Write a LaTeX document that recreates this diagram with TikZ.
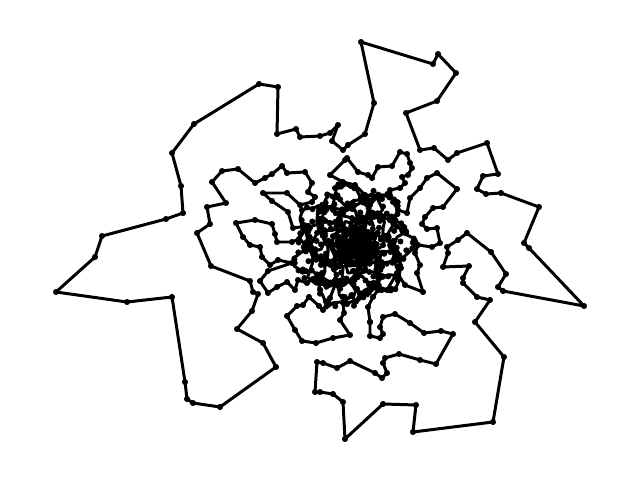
\documentclass[tikz,border=0pt]{standalone}
\tikzset{
  tour/.style={line width=1.7pt, draw=black, line join=round, line cap=round},
  stops/.style={mark=*, mark size=1.55pt, mark options={fill=black, draw=black, line width=0.3pt}}
}
\begin{document}
\begin{tikzpicture}[x=0.02cm, y=-0.02cm,
  declare function={rr(\t)=57*sqrt(1-\t/330); th(\t)=90+(57-rr(\t))*55;
    wob(\t)=1+0.16*sin(7*mod(th(\t),360)+2*\t);
    bx(\t)=355+rr(\t)*wob(\t)*cos(th(\t));
    by(\t)=245+rr(\t)*wob(\t)*sin(th(\t));
    kr(\t)=20*sqrt(1-\t/80); kth(\t)=(20-kr(\t))*90;}]
  \useasboundingbox (0,0) rectangle (640,480);
  \pgfmathsetseed{42}
  % outer ring, from the bottom inner end round to the left inner end
  \draw[tour] plot[stops] coordinates {
    (370,322) (370,336) (380,338) (383,334) (380,327) (383,317) (395,314) (410,323)
    (424,333) (441,331) (453,334) (436,364) (420,360) (399,354) (385,358) (383,363)
    (387,373) (382,378) (375,373) (350,361) (337,368) (323,363) (317,362) (315,392)
    (320,392) (333,394) (343,402) (345,439) (383,404) (416,405) (413,432) (493,422)
    (504,357) (475,322) (490,300) (477,297) (463,283) (463,278) (469,266) (443,267)
    (448,253) (447,247) (458,240) (467,233) (491,252) (506,274) (498,287) (503,291)
    (584,306) (529,248) (524,243) (539,207) (501,193) (486,194) (477,189) (483,176)
    (498,174) (487,143) (457,153) (448,160) (434,148) (420,150) (406,113) (437,101)
    (456,73) (438,54) (433,64) (361,42) (374,103) (365,134) (348,145) (343,150)
    (332,141) (338,125) (330,133) (320,136) (300,137) (296,129) (277,134) (278,87)
    (259,84) (194,124) (172,153) (181,186) (183,213) (166,219) (102,236) (95,257)
    (56,292) (127,302) (172,297) (185,382) (187,399) (193,403) (220,407) (276,367)
    (263,343) (237,329) (252,311) (258,294) (253,292) (250,281) (211,266) (197,233)
    (210,224) (207,207) (226,203) (212,182) (222,171) (238,169) (255,183) (265,178)
    (272,174) (282,166) (287,173) (305,172) (312,183) (308,192) (315,197) (312,202)
    (300,205) (287,193) (263,193) (272,201) (288,212) (293,228) (308,226)};
  % left and lower middle band
  \draw[tour] plot[stops] coordinates {
    (308,226) (299,239) (292,242) (277,242) (275,234) (272,224) (255,220) (236,223)
    (243,237) (250,245) (260,247) (262,257) (270,265) (278,260) (292,263) (268,271)
    (260,281) (268,293) (277,287) (287,282) (295,290) (298,280) (307,283) (318,275)
    (335,285) (330,298) (323,310) (319,306) (309,297) (303,305) (297,306) (287,316)
    (295,330) (302,341) (316,343) (333,338) (350,335) (340,320) (344,313) (343,302)
    (352,296) (355,301)};
  % dense core
  \draw[tour] plot[stops, variable=\t, domain=0:329, samples=330]
    ({bx(\t)+3*rand}, {by(\t)+3*rand});
  \draw[tour] plot[stops, variable=\t, domain=0:79, samples=80]
    ({356+kr(\t)*cos(kth(\t))+2*rand}, {246+kr(\t)*sin(kth(\t))+2*rand});
  % upper and right middle band, back to the bottom end
  \draw[tour] plot[stops] coordinates {
    (356,246) (370,205) (378,196) (365,195) (355,185) (343,182) (330,175) (345,160)
    (347,158) (358,172) (368,175) (372,178) (378,167) (392,166) (400,152) (407,154)
    (410,163) (412,168) (408,175) (402,177) (405,183) (400,188) (390,190) (393,202)
    (398,210) (407,213) (410,198) (420,188) (427,178) (437,173) (457,189) (443,207)
    (433,208) (425,217) (422,224) (427,229) (437,228) (440,243) (432,247) (418,245)
    (415,253) (420,265) (417,273) (423,292) (405,285) (397,273) (387,290) (378,290)
    (373,297) (368,307) (370,322)};
\end{tikzpicture}
\end{document}
